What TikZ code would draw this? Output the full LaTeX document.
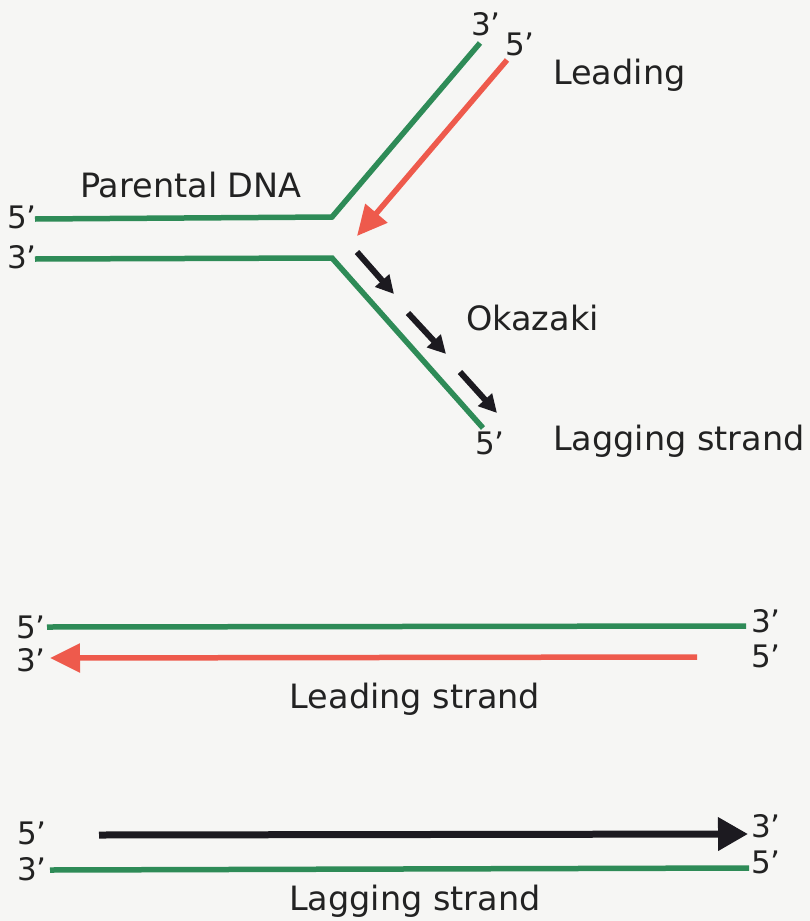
\documentclass[tikz,border=0pt]{standalone}
\usepackage{fontspec}
\setmainfont{DejaVu Sans}
\usetikzlibrary{arrows.meta}
\definecolor{dnagreen}{HTML}{2E8B57}
\definecolor{dnared}{HTML}{EE5A4C}
\definecolor{dnablack}{HTML}{1C1A20}
\definecolor{bgcol}{HTML}{F6F6F4}
\definecolor{txt}{HTML}{222222}
\begin{document}
\begin{tikzpicture}[x=1pt,y=-1pt,
  lbl/.style={inner sep=0pt,text=txt,font=\fontsize{33.5}{40}\selectfont,anchor=base west},
  endlbl/.style={inner sep=0pt,text=txt,font=\fontsize{31}{36}\selectfont},
  gstrand/.style={draw=dnagreen,line width=5.5pt,line join=miter},
  rstrand/.style={draw=dnared,line width=5.5pt,-{Triangle[length=30pt,width=28pt]}},
  okaz/.style={draw=dnablack,line width=6pt,-{Triangle[length=18pt,width=18pt]}},
  bstrand/.style={draw=dnablack,line width=7pt,-{Triangle[length=30pt,width=32pt]}}]
\fill[bgcol] (0,0) rectangle (810,921);
\useasboundingbox (0,0) rectangle (810,921);

% ---------- fork ----------
\coordinate (uL) at (35,219);
\coordinate (uB) at (332,217);
\coordinate (uE) at (480,43);
\coordinate (lL) at (35,259);
\coordinate (lB) at (332,258);
\coordinate (lE) at (483,428);
\draw[gstrand] (uL) -- (uB) -- (uE);
\draw[gstrand] (lL) -- (lB) -- (lE);

\coordinate (rS) at (507,60);
\coordinate (rT) at (357,236);
\draw[rstrand] (rS) -- (rT);

\coordinate (k1s) at (357,252); \coordinate (k1e) at (394,294);
\coordinate (k2s) at (408,313); \coordinate (k2e) at (446,354);
\coordinate (k3s) at (460,372); \coordinate (k3e) at (497,413);
\draw[okaz] (k1s) -- (k1e);
\draw[okaz] (k2s) -- (k2e);
\draw[okaz] (k3s) -- (k3e);

\node[endlbl] (t3) at (486,24) {3’};
\node[endlbl] (t5) at (520,44) {5’};
\node[endlbl] (f5) at (22,217) {5’};
\node[endlbl] (f3) at (22,257) {3’};
\node[endlbl] (g5) at (490,443) {5’};

\node[lbl] (leadtop) at (553,84) {Leading};
\node[lbl] (parent) at (80,197) {Parental DNA};
\node[lbl] (okazaki) at (466,330) {Okazaki};
\node[lbl] (lagtop) at (553,450) {Lagging strand};

% ---------- leading strand ----------
\coordinate (a1) at (47,627);
\coordinate (a2) at (746,626);
\draw[gstrand] (a1) -- (a2);
\coordinate (b1) at (697,657);
\coordinate (b2) at (50,658);
\draw[rstrand] (b1) -- (b2);
\node[endlbl] (la5) at (31,627) {5’};
\node[endlbl] (la3) at (31,660) {3’};
\node[endlbl] (ra3) at (766,621) {3’};
\node[endlbl] (ra5) at (766,656) {5’};
\node[lbl,anchor=base] (leadbot) at (415,708) {Leading strand};

% ---------- lagging strand ----------
\coordinate (c1) at (99,835);
\coordinate (c2) at (748,834);
\draw[bstrand] (c1) -- (c2);
\coordinate (d1) at (50,870);
\coordinate (d2) at (749,868);
\draw[gstrand] (d1) -- (d2);
\node[endlbl] (lc5) at (32,833) {5’};
\node[endlbl] (lc3) at (32,869) {3’};
\node[endlbl] (rc3) at (766,826) {3’};
\node[endlbl] (rc5) at (766,862) {5’};
\node[lbl,anchor=base] (lagbot) at (415,910) {Lagging strand};
\end{tikzpicture}
\end{document}
